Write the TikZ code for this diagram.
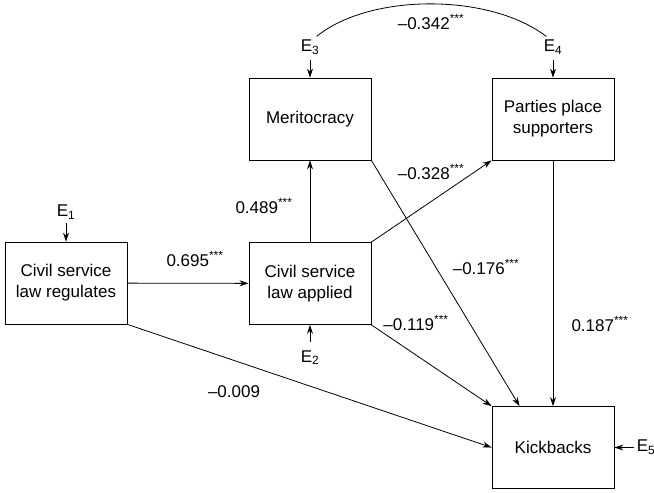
\documentclass[tikz,border=0pt]{standalone}
\usepackage{fontspec}
\setmainfont{Liberation Sans}
\usetikzlibrary{positioning, arrows.meta}
\tikzset{
var/.style={shape=rectangle, draw, minimum width=122pt, minimum height=82pt, inner sep=0, align=center, font=\fontsize{17}{21}\selectfont},
err/.style={inner sep=3pt, font=\fontsize{17}{21}\selectfont},
coef/.style={inner sep=0, font=\fontsize{17}{21}\selectfont},
path/.style={-{Stealth[length=9pt, width=6pt]}, line width=0.8pt}}
\newcommand{\sig}{\textsuperscript{***}}

\begin{document}
\begin{tikzpicture}[x=1pt, y=-1pt, line width=0.8pt]
\useasboundingbox (0,0) rectangle (654,493);
% variables
\node [var] at (66, 283) (reg) {Civil service\\law regulates};
\node [var] at (310, 283.5) (app) {Civil service\\law applied};
\node [var] at (310, 119) (mer) {Meritocracy};
\node [var] at (553, 119) (par) {Parties place\\supporters};
\node [var] at (553, 447.5) (kick) {Kickbacks};
% error terms
\node [err, above=19pt of reg] (e1) {E\textsubscript{1}};
\node [err, inner sep=8pt, below=17pt of app] (e2) {E\textsubscript{2}};
\node [err, inner sep=5pt, above=18pt of mer] (e3) {E\textsubscript{3}};
\node [err, inner sep=5pt, above=18pt of par] (e4) {E\textsubscript{4}};
\node [err, inner sep=2pt, right=20pt of kick] (e5) {E\textsubscript{5}};
\draw [path] (e1) -- (reg);
\draw [path] (e2) -- (app);
\draw [path] (e3) -- (mer);
\draw [path] (e4) -- (par);
\draw [path] (e5) -- (kick);
\draw ([shift={(-8pt,-2pt)}]e3.north east) .. controls (370,-7) and (490,-7) .. ([shift={(8pt,-2pt)}]e4.north west);
% paths
\draw [path] (reg) -- (app);
\draw [path] (app) -- (mer);
\draw [path] (app.north east) -- (par.south west);
\draw [path] (mer.south east) -- ([xshift=28pt]kick.north west);
\draw [path] (app.south east) -- (kick.north west);
\draw [path] (par) -- (kick);
\draw [path] (reg.south east) -- (kick.west);
% coefficients
\foreach \val/\x/\y in {0.695\sig/195/259, 0.489\sig/264/206, --0.328\sig/431/172, --0.342\sig/431/22,
      --0.176\sig/486/267, --0.119\sig/416/323, 0.187\sig/600/324, --0.009/234/392}
  \node [coef] at (\x, \y) {\val};
\end{tikzpicture}
\end{document}
